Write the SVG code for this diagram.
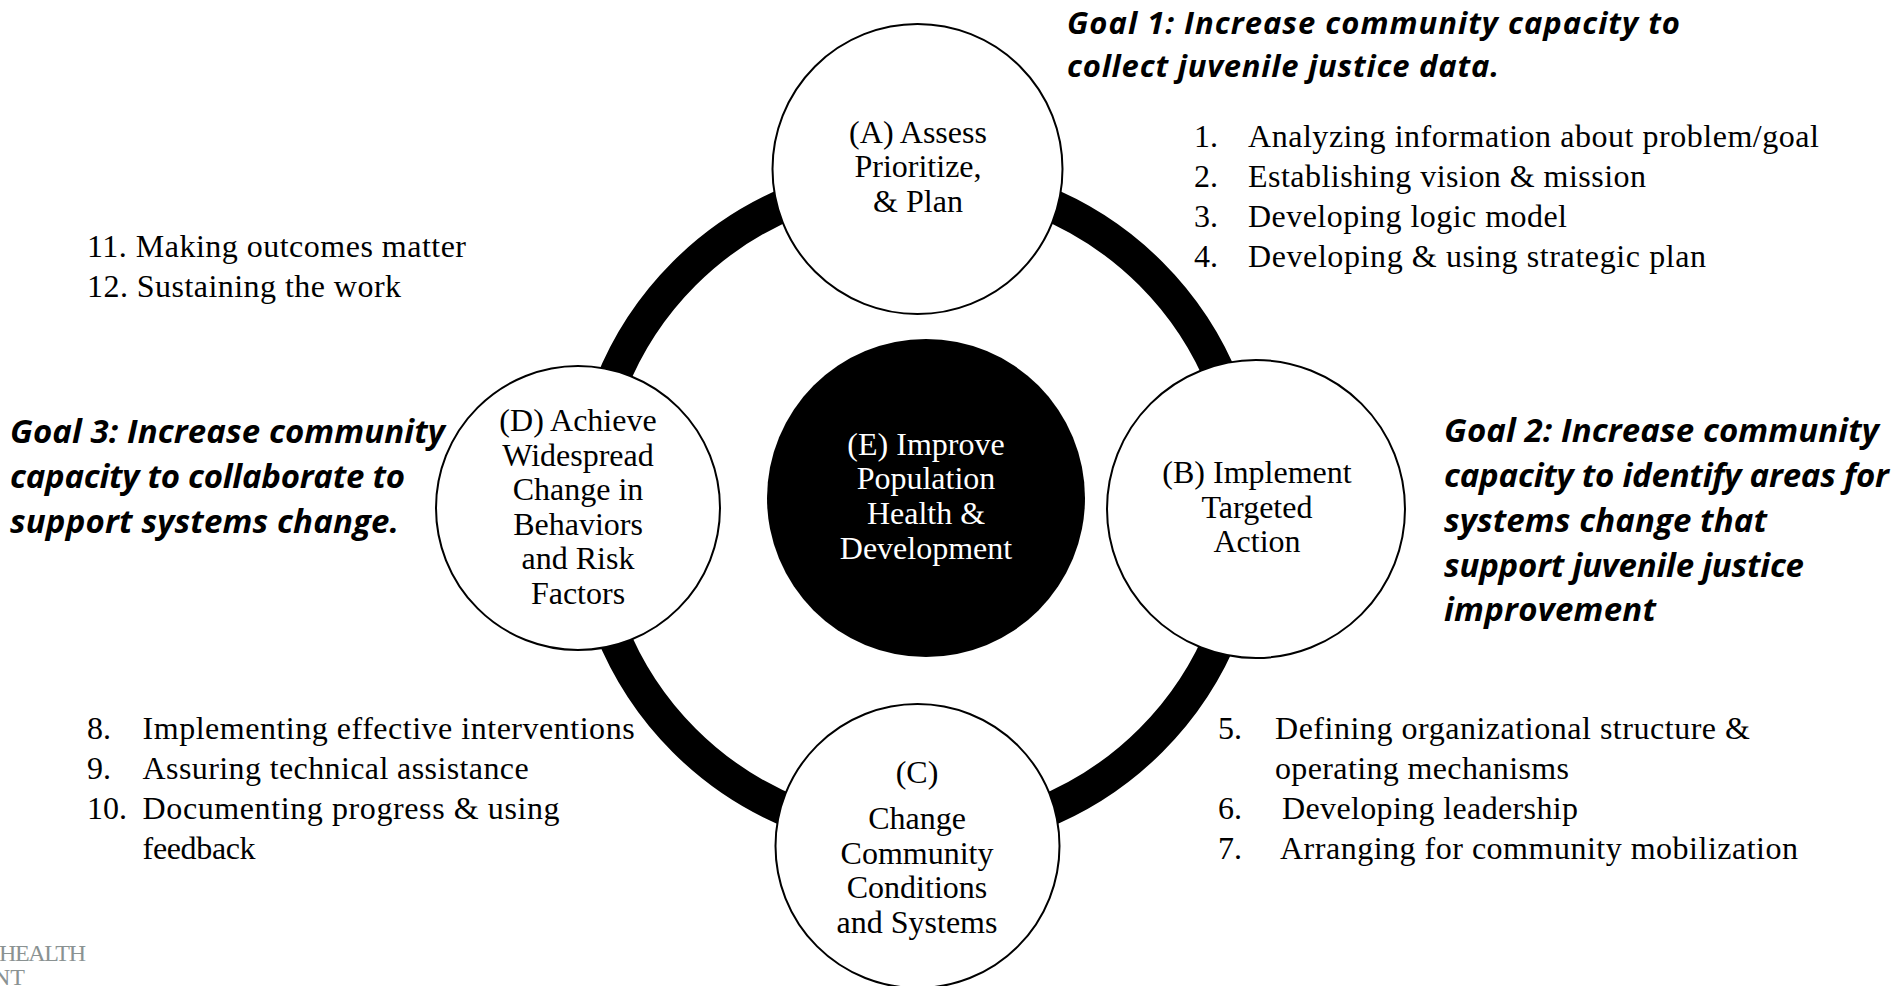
<svg xmlns="http://www.w3.org/2000/svg" width="1895" height="986" viewBox="0 0 1895 986">
  <style>
    .goal { font-family: "Open Sans", "Liberation Sans", sans-serif; font-weight: 700; font-style: italic; font-size: 33px; fill: #000; }
    .g1 { font-size: 31px; }
    .lst { font-family: "Liberation Serif", "Times New Roman", serif; font-size: 32px; fill: #000; }
    .nd { font-family: "Liberation Serif", "Times New Roman", serif; font-size: 32px; fill: #000; text-anchor: middle; }
    .ndw { fill: #fff; }
    .circ { fill: #fff; stroke: #000; stroke-width: 2; }
    .logo { font-family: "Liberation Serif", "Times New Roman", serif; font-size: 24px; fill: #8a9292; }
  </style>
  <rect width="1895" height="986" fill="#fff"/>

  <g id="connectors">
    <circle cx="917.5" cy="507" r="330" fill="none" stroke="#000" stroke-width="33"/>
  </g>

  <g id="nodeA">
    <circle class="circ" cx="917.5" cy="169" r="145"/>
    <text class="nd" x="918" y="143">(A) Assess</text>
    <text class="nd" x="918" y="177">Prioritize,</text>
    <text class="nd" x="918" y="212">&amp; Plan</text>
  </g>

  <g id="nodeB">
    <circle class="circ" cx="1256" cy="509" r="149"/>
    <text class="nd" x="1257" y="483">(B) Implement</text>
    <text class="nd" x="1257" y="518">Targeted</text>
    <text class="nd" x="1257" y="552">Action</text>
  </g>

  <g id="nodeC">
    <circle class="circ" cx="917.5" cy="846" r="142"/>
    <text class="nd" x="917" y="783">(C)</text>
    <text class="nd" x="917" y="829">Change</text>
    <text class="nd" x="917" y="864">Community</text>
    <text class="nd" x="917" y="898">Conditions</text>
    <text class="nd" x="917" y="933">and Systems</text>
  </g>

  <g id="nodeD">
    <circle class="circ" cx="578" cy="508" r="142"/>
    <text class="nd" x="578" y="431">(D) Achieve</text>
    <text class="nd" x="578" y="465.5">Widespread</text>
    <text class="nd" x="578" y="500">Change in</text>
    <text class="nd" x="578" y="534.5">Behaviors</text>
    <text class="nd" x="578" y="569">and Risk</text>
    <text class="nd" x="578" y="603.5">Factors</text>
  </g>

  <g id="nodeE">
    <circle cx="926" cy="498" r="159" fill="#000"/>
    <text class="nd ndw" x="926" y="455">(E) Improve</text>
    <text class="nd ndw" x="926" y="489">Population</text>
    <text class="nd ndw" x="926" y="524">Health &amp;</text>
    <text class="nd ndw" x="926" y="559">Development</text>
  </g>

  <g id="goal1">
    <text class="goal g1" x="1067" y="34" textLength="613">Goal 1: Increase community capacity to</text>
    <text class="goal g1" x="1067" y="77" textLength="432">collect juvenile justice data.</text>
  </g>

  <g id="list1-4">
    <text class="lst" x="1194" y="147">1.</text>
    <text class="lst" x="1248" y="147" textLength="571">Analyzing information about problem/goal</text>
    <text class="lst" x="1194" y="187">2.</text>
    <text class="lst" x="1248" y="187" textLength="398">Establishing vision &amp; mission</text>
    <text class="lst" x="1194" y="227">3.</text>
    <text class="lst" x="1248" y="227" textLength="319">Developing logic model</text>
    <text class="lst" x="1194" y="267">4.</text>
    <text class="lst" x="1248" y="267" textLength="458">Developing &amp; using strategic plan</text>
  </g>

  <g id="list11-12">
    <text class="lst" x="87" y="257" textLength="379">11. Making outcomes matter</text>
    <text class="lst" x="87" y="297" textLength="314">12. Sustaining the work</text>
  </g>

  <g id="goal3">
    <text class="goal" x="10" y="443" textLength="435">Goal 3: Increase community</text>
    <text class="goal" x="10" y="488" textLength="395">capacity to collaborate to</text>
    <text class="goal" x="10" y="533" textLength="389">support systems change.</text>
  </g>

  <g id="goal2">
    <text class="goal" x="1444" y="442" textLength="435">Goal 2: Increase community</text>
    <text class="goal" x="1444" y="487" textLength="445">capacity to identify areas for</text>
    <text class="goal" x="1444" y="532" textLength="323">systems change that</text>
    <text class="goal" x="1444" y="577" textLength="360">support juvenile justice</text>
    <text class="goal" x="1444" y="621" textLength="212">improvement</text>
  </g>

  <g id="list8-10">
    <text class="lst" x="87" y="739">8.</text>
    <text class="lst" x="142.6" y="739" textLength="492">Implementing effective interventions</text>
    <text class="lst" x="87" y="779">9.</text>
    <text class="lst" x="142.6" y="779" textLength="386">Assuring technical assistance</text>
    <text class="lst" x="87" y="819">10.</text>
    <text class="lst" x="142.6" y="819" textLength="417">Documenting progress &amp; using</text>
    <text class="lst" x="142.6" y="859" textLength="113">feedback</text>
  </g>

  <g id="list5-7">
    <text class="lst" x="1218" y="739">5.</text>
    <text class="lst" x="1275" y="739" textLength="475">Defining organizational structure &amp;</text>
    <text class="lst" x="1275" y="779" textLength="294">operating mechanisms</text>
    <text class="lst" x="1218" y="819">6.</text>
    <text class="lst" x="1282" y="819" textLength="296">Developing leadership</text>
    <text class="lst" x="1218" y="859">7.</text>
    <text class="lst" x="1280" y="859" textLength="518">Arranging for community mobilization</text>
  </g>

  <g id="logo">
    <text class="logo" x="-1" y="961" textLength="87">HEALTH</text>
    <text class="logo" x="-7" y="985">NT</text>
  </g>
</svg>
